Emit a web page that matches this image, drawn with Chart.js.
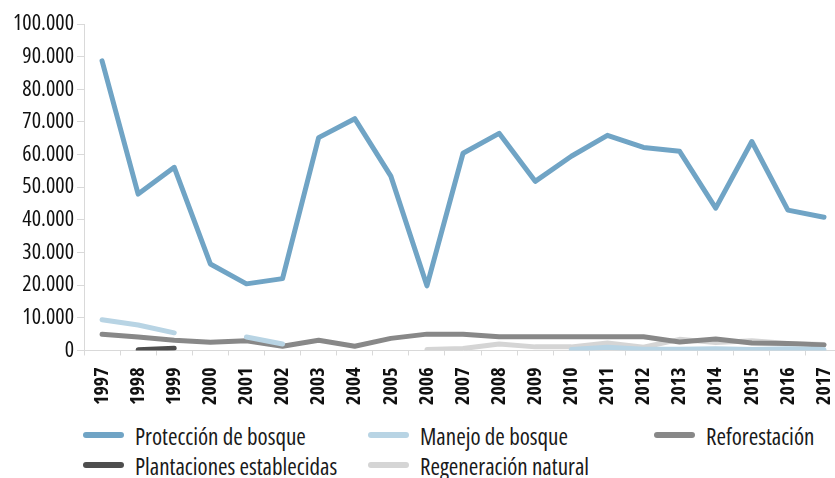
<!DOCTYPE html>
<html>
<head>
<meta charset="utf-8">
<script src="https://cdn.jsdelivr.net/npm/chart.js@4"></script>
<style>
  html, body { margin: 0; padding: 0; background: #fff; overflow: hidden; }
  #wrap { position: absolute; left: 0; top: 0; width: 860px; height: 417px; }
  #legend {
    position: absolute; left: 83px; top: 421px;
    display: grid; grid-template-columns: 285px 286px 200px;
    font-family: 'Open Sans', sans-serif; font-stretch: 75%;
    font-size: 23px; line-height: 30px; color: #1a1a1a;
  }
  .item { display: flex; align-items: center; white-space: nowrap; height: 30px; }
  .swatch { flex: 0 0 41px; height: 6px; border-radius: 3px; margin-right: 11px; position: relative; top: -1px; }
</style>
</head>
<body>
<div id="wrap"><canvas id="myChart"></canvas></div>
<div id="legend"></div>
<script>
// Años
const years = ["1997","1998","1999","2000","2001","2002","2003","2004","2005","2006","2007",
  "2008","2009","2010","2011","2012","2013","2014","2015","2016","2017"];

// Hectáreas por actividad
const proteccion = [88700, 47900, 56100, 26500, 20400, 22000, 65200, 71000, 53400, 19800, 60400,
  66500, 51800, 59500, 65900, 62200, 61000, 43600, 64000, 43000, 40800];
const manejo = [9400, 7800, 5400, null, 4100, 2000, null, null, null, null, null,
  null, null, 300, 1000, 400, 400, 500, 300, 500, 300];
const reforestacion = [5000, 4100, 3100, 2500, 3000, 1300, 3100, 1300, 3700, 5000, 5000,
  4200, 4200, 4200, 4200, 4200, 2600, 3500, 2300, 2100, 1700];
const plantaciones = [null, 200, 700, null, null, null, null, null, null, null, null,
  null, null, null, null, null, null, null, null, null, null];
const regeneracion = [null, null, null, null, null, null, null, null, null, 300, 600,
  2000, 1100, 1100, 2300, 1000, 3400, 2400, 3000, 2100, 1800];

const yTicks = [0, 10000, 20000, 30000, 40000, 50000, 60000, 70000, 80000, 90000, 100000];

const font = "'Open Sans', sans-serif";

function ds(label, data, color) {
  return {
    label: label, data: data, borderColor: color, backgroundColor: color,
    borderWidth: 5, pointRadius: 0, fill: false, tension: 0,
    borderCapStyle: "round", borderJoinStyle: "round", spanGaps: false
  };
}

const canvas = document.getElementById("myChart");
const chart = new Chart(canvas.getContext("2d"), {
  type: "line",
  data: {
    labels: years,
    datasets: [
      ds("Protección de bosque", proteccion, "#70a4c5"),
      ds("Manejo de bosque", manejo, "#b8d4e4"),
      ds("Reforestación", reforestacion, "#888888"),
      ds("Plantaciones establecidas", plantaciones, "#4e4e4e"),
      ds("Regeneración natural", regeneracion, "#d5d5d5")
    ]
  },
  options: {
    responsive: true,
    maintainAspectRatio: false,
    animation: false,
    layout: { padding: { top: 24, right: 0, left: 10, bottom: 0 } },
    plugins: { legend: { display: false }, tooltip: { enabled: false } },
    scales: {
      x: {
        offset: true,
        grid: { display: true, drawOnChartArea: false, offset: true, color: "#d9d9d9", tickLength: 5 },
        border: { color: "#d9d9d9", width: 1 },
        ticks: {
          autoSkip: false, maxRotation: 90, minRotation: 90, color: "#111",
          padding: 12, font: { family: font, size: 20, weight: "bold condensed" }
        }
      },
      y: {
        min: 0, max: 100000,
        afterBuildTicks: function (axis) { axis.ticks = yTicks.map(function (v) { return { value: v }; }); },
        grid: { display: true, drawOnChartArea: false, color: "#d9d9d9", tickLength: 7 },
        border: { color: "#d9d9d9", width: 1 },
        ticks: {
          color: "#111", padding: 3, font: { family: font, size: 22, weight: "condensed" },
          callback: function (v) { return v === 0 ? "0" : v.toLocaleString("de-DE"); }
        }
      }
    }
  }
});

// Leyenda en HTML
const legend = document.getElementById("legend");
chart.data.datasets.forEach(function (d) {
  const el = document.createElement("div");
  el.className = "item";
  el.innerHTML = '<span class="swatch" style="background:' + d.borderColor + '"></span><span>' + d.label + '</span>';
  legend.appendChild(el);
});
</script>
</body>
</html>
